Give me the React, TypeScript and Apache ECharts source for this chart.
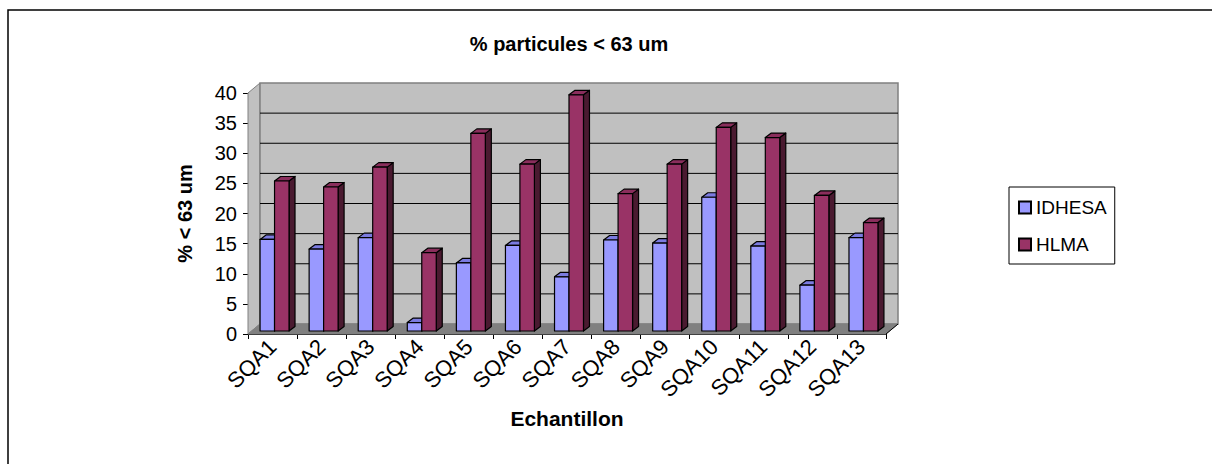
import React, { useEffect, useRef } from "react";
import * as echarts from "echarts";

const categories = ["SQA1","SQA2","SQA3","SQA4","SQA5","SQA6","SQA7","SQA8","SQA9","SQA10","SQA11","SQA12","SQA13"];
const idhesa = [15.2, 13.6, 15.5, 1.4, 11.3, 14.2, 9.0, 15.1, 14.6, 22.2, 14.1, 7.6, 15.5];
const hlma = [24.9, 23.9, 27.2, 13.0, 32.8, 27.7, 39.2, 22.8, 27.7, 33.8, 32.1, 22.5, 18.0];
const yTicks = [0, 5, 10, 15, 20, 25, 30, 35, 40];

const FONT = 'Arial, "Liberation Sans", sans-serif';

function makeBarRender(side: number, front: string, top: string, sideCol: string) {
  return (params: any, api: any) => {
    const idx = api.value(0);
    const val = api.value(1);
    const base = api.coord([idx, 0]);
    const tp = api.coord([idx, val]);
    const band = api.size([1, 0])[0];
    const bw = band * 0.295;
    const ox = 2, oy = -3, dx = 6, dy = -4.5;
    const x0 = side === 0 ? base[0] - bw + ox : base[0] + ox;
    const yb = base[1] + oy;
    const yt = tp[1] + oy;
    const ls = { stroke: "#000", lineWidth: 1.2, lineJoin: "round" };
    return {
      type: "group",
      children: [
        {
          type: "polygon",
          shape: { points: [[x0 + bw, yt], [x0 + bw + dx, yt + dy], [x0 + bw + dx, yb + dy], [x0 + bw, yb]] },
          style: { fill: sideCol, ...ls },
        },
        {
          type: "polygon",
          shape: { points: [[x0, yt], [x0 + bw, yt], [x0 + bw + dx, yt + dy], [x0 + dx, yt + dy]] },
          style: { fill: top, ...ls },
        },
        {
          type: "rect",
          shape: { x: x0, y: yt, width: bw, height: yb - yt },
          style: { fill: front, ...ls },
        },
      ],
    };
  };
}

function wallRender(params: any, api: any) {
  const cs = params.coordSys;
  const L = cs.x, R = cs.x + cs.width, T = cs.y, B = cs.y + cs.height;
  const dx = 12, dy = -10;
  const children: any[] = [];
  children.push({
    type: "polygon",
    shape: { points: [[L, B], [L, T], [L + dx, T + dy], [L + dx, B + dy]] },
    style: { fill: "#c0c0c0", stroke: "#808080", lineWidth: 1 },
  });
  children.push({
    type: "rect",
    shape: { x: L + dx, y: T + dy, width: R - L, height: B - T },
    style: { fill: "#c0c0c0", stroke: "#808080", lineWidth: 1.5 },
  });
  yTicks.forEach((t) => {
    if (t === 0 || t === yTicks[yTicks.length - 1]) return;
    const y = api.coord([0, t])[1] + dy;
    children.push({
      type: "line",
      shape: { x1: L + dx, y1: y, x2: R + dx, y2: y },
      style: { stroke: "#000", lineWidth: 1 },
    });
  });
  children.push({
    type: "polygon",
    shape: { points: [[L, B], [R, B], [R + dx, B + dy], [L + dx, B + dy]] },
    style: { fill: "#808080", stroke: "#808080", lineWidth: 1 },
  });
  children.push({
    type: "polyline",
    shape: { points: [[R, B], [R + dx, B + dy]] },
    style: { stroke: "#000", lineWidth: 1, fill: "none" },
  });
  return { type: "group", children };
}

export default function App() {
  const ref = useRef<HTMLDivElement>(null);
  useEffect(() => {
    if (!ref.current) return;
    const chart = echarts.init(ref.current, null, { renderer: "svg" });
    chart.setOption({
      animation: false,
      backgroundColor: "#ffffff",
      textStyle: { fontFamily: FONT },
      title: {
        text: "% particules < 63 um",
        left: 569,
        top: 34,
        textAlign: "center",
        padding: 0,
        textStyle: { fontFamily: FONT, fontSize: 20, fontWeight: "bold", color: "#000" },
      },
      legend: {
        data: ["IDHESA", "HLMA"],
        orient: "vertical",
        left: 1009,
        top: 187,
        padding: [11, 8, 10, 9],
        itemGap: 18,
        itemWidth: 12,
        itemHeight: 12,
        icon: "rect",
        borderColor: "#000",
        borderWidth: 1,
        textStyle: { fontFamily: FONT, fontSize: 19, color: "#000", padding: [0, 0, 0, 0] },
      },
      graphic: [
        {
          type: "rect",
          shape: { x: 8, y: 10, width: 1230, height: 480 },
          style: { fill: "none", stroke: "#000", lineWidth: 1.5 },
          z: 100,
          silent: true,
        },
      ],
      grid: { left: 248, top: 93, width: 638, height: 241, containLabel: false },
      xAxis: {
        type: "category",
        data: categories,
        boundaryGap: true,
        name: "Echantillon",
        nameLocation: "middle",
        nameGap: 67,
        nameTextStyle: { fontFamily: FONT, fontSize: 21, fontWeight: "bold", color: "#000", verticalAlign: "top" },
        axisLine: { show: true, lineStyle: { color: "#000", width: 1 } },
        axisTick: { show: true, length: 5, lineStyle: { color: "#000" } },
        axisLabel: { interval: 0, rotate: 45, margin: 9, fontFamily: FONT, fontSize: 22, color: "#000" },
        splitLine: { show: false },
      },
      yAxis: {
        type: "value",
        min: 0,
        max: 40,
        interval: 5,
        name: "% < 63 um",
        nameLocation: "middle",
        nameGap: 53,
        nameTextStyle: { fontFamily: FONT, fontSize: 20, fontWeight: "bold", color: "#000" },
        axisLine: { show: true, lineStyle: { color: "#000", width: 1 } },
        axisTick: { show: true, length: 5, lineStyle: { color: "#000" } },
        axisLabel: { margin: 11, fontFamily: FONT, fontSize: 20, color: "#000" },
        splitLine: { show: false },
      },
      series: [
        {
          type: "custom",
          name: "wall",
          renderItem: wallRender,
          data: [[0, 0]],
          encode: { x: 0, y: 1 },
          clip: false,
          silent: true,
          z: 1,
        },
        {
          type: "custom",
          name: "IDHESA",
          renderItem: makeBarRender(0, "#9999ff", "#7b7be0", "#4c4c88"),
          data: idhesa.map((v, i) => [i, v]),
          encode: { x: 0, y: 1 },
          itemStyle: { color: "#9999ff", borderColor: "#000", borderWidth: 1 },
          clip: false,
          z: 2,
        },
        {
          type: "custom",
          name: "HLMA",
          renderItem: makeBarRender(1, "#993366", "#8a2e5c", "#4a1a30"),
          data: hlma.map((v, i) => [i, v]),
          encode: { x: 0, y: 1 },
          itemStyle: { color: "#993366", borderColor: "#000", borderWidth: 1 },
          clip: false,
          z: 3,
        },
      ],
    });
    return () => chart.dispose();
  }, []);
  return (
    <div
      ref={ref}
      style={{ position: "absolute", left: 0, top: 0, width: 1212, height: 464 }}
    />
  );
}
